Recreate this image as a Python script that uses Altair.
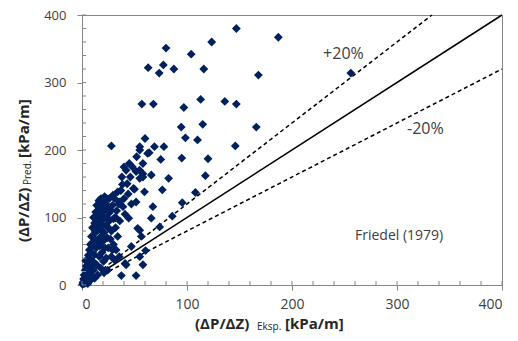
import altair as alt
import pandas as pd

# scattered points (outer region)
px_outer = [147, 187, 123.5, 80, 104, 63, 77.5, 73.5, 87.5, 116, 168, 57, 68, 97, 113, 136, 147,
            94.5, 115, 166, 98.5, 110, 146, 95, 120, 69, 78, 64, 75, 66, 82.5, 117.5, 76.5, 108,
            95.5, 67.5, 86, 66, 74, 28, 60, 55, 62.5, 52, 58, 55, 42, 51.5, 58, 55, 54.8, 38.5,
            50, 59.5, 49, 58, 21.5, 29.5, 35.5, 39, 51.5, 15, 26, 32, 44.5, 55, 56.5, 53, 47,
            60.5, 42, 58, 37.5, 51.5, 32.5, 35.5, 55, 41, 29, 31, 24.5, 256]
py_outer = [380, 367, 360, 351, 342, 322, 326, 314, 320, 320, 311, 268, 268, 263, 275, 272, 268,
            234, 238, 234, 218, 215, 206, 188, 187, 205, 205, 196, 186, 163, 158, 162, 141, 137,
            122, 116, 102, 99, 86, 206, 217, 205, 195, 190, 180, 200, 170, 168, 165, 158, 170, 149,
            142, 138, 143, 160, 131, 133, 123, 116, 123, 105, 107, 100, 99, 81, 72, 84, 57,
            51, 30, 30, 14, 14, 52, 42, 42, 32, 52, 37, 22, 314]

# dense cluster near the origin
px_cluster = [0.5, 1, 1.5, 2, 2, 2.5, 3, 3, 3.5,
              4, 4, 4.5, 5, 5, 5.5, 6, 6, 6,
              7, 7, 7.5, 8, 8, 8.5, 9, 9, 9,
              10, 10, 10.5, 11, 11, 11, 12, 12, 12,
              13, 13, 13.5, 14, 14, 14, 15, 15, 15,
              16, 16, 16.5, 17, 17, 17.5, 18, 18, 18,
              19, 19, 19.5, 20, 20, 20.5, 21, 21, 21,
              22, 22, 22.5, 23, 23, 24, 24, 24,
              25, 25, 26, 26, 27, 27, 28, 28,
              29, 30, 30, 31, 32, 33, 34, 34,
              36, 37, 38, 40, 41, 43, 44, 46, 47, 48, 45, 40,
              3.5, 6.5, 9.5, 12.5, 15.5, 18.5, 23.5, 26.5, 31.5, 35]
py_cluster = [1, 4, 9, 2, 15, 6, 22, 11, 3,
              28, 16, 8, 36, 22, 2, 44, 12, 30,
              52, 20, 6, 60, 38, 28, 72, 14, 48,
              85, 58, 35, 100, 22, 70, 92, 45, 10,
              108, 78, 55, 118, 30, 88, 100, 65, 15,
              125, 82, 42, 112, 58, 95, 72, 128, 25,
              105, 48, 88, 120, 65, 35, 98, 78, 18,
              112, 55, 125, 88, 40, 100, 70, 118,
              85, 55, 128, 95, 68, 110, 80, 42,
              118, 98, 60, 128, 85, 110, 72, 138,
              95, 140, 160, 128, 105, 150, 135, 160, 120, 175, 180, 175,
              36, 40, 62, 80, 105, 110, 128, 112, 100, 120]

pts = pd.DataFrame({"x": px_outer + px_cluster, "y": py_outer + py_cluster})

# reference lines: 1:1, +20 %, -20 %
solid = pd.DataFrame({"x": [20], "y": [20], "x2": [400], "y2": [400]})
dashed = pd.DataFrame({"x": [20, 20], "y": [24, 16], "x2": [333.3, 400], "y2": [400, 320]})

major_ticks = [0, 100, 200, 300, 400]
minor_ticks = [0, 20, 40, 60, 80, 100, 120, 140, 160, 180, 200, 220, 240, 260, 280,
               300, 320, 340, 360, 380, 400]

GRAY = "#868686"
NAVY = "#002060"
FONT = "Open Sans"

xscale = alt.Scale(domain=[0, 400], nice=False, zero=False)
yscale = alt.Scale(domain=[0, 400], nice=False, zero=False)
xaxis = alt.Axis(values=major_ticks, title=None, grid=False, tickSize=5, tickColor=GRAY,
                 domainColor=GRAY, labelFont=FONT, labelFontSize=14, labelColor="#404040",
                 labelPadding=7)
yaxis = alt.Axis(values=major_ticks, title=None, grid=False, tickSize=5, tickColor=GRAY,
                 domainColor=GRAY, labelFont=FONT, labelFontSize=13, labelColor="#404040",
                 labelPadding=11)
X = alt.X("x:Q", scale=xscale, axis=xaxis)
Y = alt.Y("y:Q", scale=yscale, axis=yaxis)

solid_line = alt.Chart(solid).mark_rule(color="black", strokeWidth=1.5).encode(
    x=X, y=Y, x2="x2:Q", y2="y2:Q")
dashed_lines = alt.Chart(dashed).mark_rule(color="black", strokeWidth=1.5,
                                           strokeDash=[4, 3]).encode(
    x=X, y=Y, x2="x2:Q", y2="y2:Q")

points = alt.Chart(pts).mark_point(shape="diamond", filled=True, size=78, color=NAVY,
                                   opacity=1, strokeWidth=0).encode(x=X, y=Y)

mt = pd.DataFrame({"x": minor_ticks, "y": minor_ticks})
xminor = alt.Chart(mt).mark_rule(color=GRAY, strokeWidth=1).encode(
    x=X, y=alt.value(270), y2=alt.value(266))
yminor = alt.Chart(mt).mark_rule(color=GRAY, strokeWidth=1).encode(
    y=Y, x=alt.value(0), x2=alt.value(4))

one = pd.DataFrame({"a": [0]})


def label(text, x, y, size, bold=False, align="center", angle=0, color="#404040"):
    return alt.Chart(one).mark_text(text=text, font=FONT, fontSize=size,
                                    fontWeight="bold" if bold else "normal",
                                    align=align, baseline="middle", angle=angle,
                                    color=color).encode(x=x, y=y)


plus = label("+20%", alt.datum(249), alt.datum(341.5), 16)
minus = label("-20%", alt.datum(327), alt.datum(231), 16)
fried = label("Friedel (1979)", alt.datum(302), alt.datum(72.6), 14)

TC = "#262626"
xt1 = label("(ΔP/ΔZ)", alt.value(113), alt.value(309), 15, True, "left", color=TC)
xt2 = label("Eksp.", alt.value(175), alt.value(312), 10, False, "left", color=TC)
xt3 = label("[kPa/m]", alt.value(203), alt.value(309), 15, True, "left", color=TC)
yt1 = label("(ΔP/ΔZ)", alt.value(-58), alt.value(227), 15, True, "left", 270, TC)
yt2 = label("Pred.", alt.value(-54), alt.value(170), 10, False, "left", 270, TC)
yt3 = label("[kPa/m]", alt.value(-58), alt.value(143), 15, True, "left", 270, TC)

chart = alt.layer(
    solid_line, dashed_lines, points, xminor, yminor, plus, minus, fried,
    xt1, xt2, xt3, yt1, yt2, yt3
).properties(
    width=420, height=270,
    autosize=alt.AutoSizeParams(type="none"),
    padding={"left": 74, "top": 7, "right": 7, "bottom": 48},
).configure_view(stroke=GRAY, strokeWidth=1)

chart.save("out.html", embed_options={"renderer": "svg", "actions": False})
